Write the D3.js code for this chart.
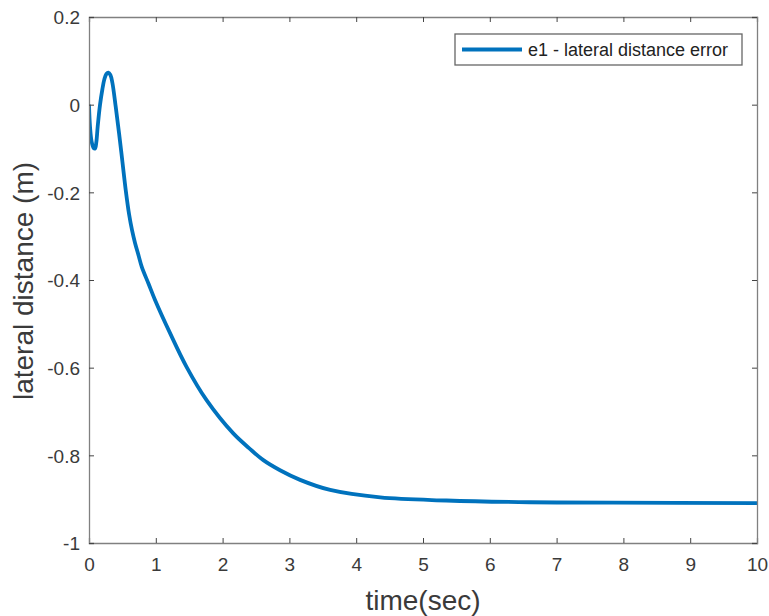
<!DOCTYPE html>
<html>
<head>
<meta charset="utf-8">
<script src="https://cdn.jsdelivr.net/npm/d3@7"></script>
<style>
  html, body { margin: 0; padding: 0; background: #fff; }
  svg { display: block; font-family: "Liberation Sans", Arial, sans-serif; }
</style>
</head>
<body>
<div id="chart"></div>
<script>
/* time samples (sec) and lateral distance error e1 (m) */
const timeSec = [0, 0.015, 0.04, 0.07, 0.09, 0.11, 0.13, 0.165, 0.2, 0.23, 0.26, 0.29, 0.32, 0.35,
  0.40, 0.45, 0.50, 0.55, 0.60, 0.645, 0.69, 0.74, 0.79, 0.89, 0.99, 1.21, 1.46, 1.76, 2.16, 2.4,
  2.61, 2.86, 3.16, 3.61, 4.36, 5.35, 6.6, 7.85, 10];
const e1 = [0, -0.05, -0.085, -0.099, -0.1, -0.085, -0.05, 0.0, 0.035, 0.058, 0.07, 0.073, 0.068, 0.05,
  -0.005, -0.065, -0.13, -0.195, -0.25, -0.287, -0.316, -0.343, -0.37, -0.408, -0.446, -0.52, -0.598,
  -0.674, -0.75, -0.784, -0.811, -0.834, -0.856, -0.879, -0.896, -0.903, -0.907, -0.908, -0.909];

const xTicks = [0, 1, 2, 3, 4, 5, 6, 7, 8, 9, 10];
const yTicks = [-1, -0.8, -0.6, -0.4, -0.2, 0, 0.2];
const legendLabel = 'e1 - lateral distance error';

const W = 769, H = 616;
const box = { left: 89, right: 757, top: 17, bottom: 543 };
const AXIS = '#808080', TXT = '#3a3a3a';

const svg = d3.select('#chart').append('svg')
  .attr('width', W).attr('height', H);

const x = d3.scaleLinear().domain([0, 10]).range([box.left, box.right]);
const y = d3.scaleLinear().domain([-1, 0.2]).range([box.bottom, box.top]);

/* curve */
const pts = timeSec.map((t, i) => [t, e1[i]]);
svg.append('defs').append('clipPath').attr('id', 'clip')
  .append('rect').attr('x', box.left).attr('y', box.top)
  .attr('width', box.right - box.left).attr('height', box.bottom - box.top);

svg.append('path')
  .datum(pts)
  .attr('clip-path', 'url(#clip)')
  .attr('fill', 'none')
  .attr('stroke', '#0072BD')
  .attr('stroke-width', 3.8)
  .attr('stroke-linejoin', 'round')
  .attr('d', d3.line().x(d => x(d[0])).y(d => y(d[1])).curve(d3.curveCatmullRom.alpha(0.5)));

/* axes: inward ticks on all four sides */
const fmt = d => (d === 0 ? '0' : String(+d.toFixed(1)));
const axB = svg.append('g').attr('transform', `translate(0,${box.bottom})`)
  .call(d3.axisBottom(x).tickValues(xTicks).tickSize(-5).tickPadding(15).tickFormat(d3.format('d')));
const axT = svg.append('g').attr('transform', `translate(0,${box.top})`)
  .call(d3.axisTop(x).tickValues(xTicks).tickSize(-5).tickFormat(''));
const axL = svg.append('g').attr('transform', `translate(${box.left},0)`)
  .call(d3.axisLeft(y).tickValues(yTicks).tickSize(-5).tickPadding(9).tickFormat(fmt));
const axR = svg.append('g').attr('transform', `translate(${box.right},0)`)
  .call(d3.axisRight(y).tickValues(yTicks).tickSize(-5).tickFormat(''));

[axB, axT, axL, axR].forEach(g => {
  g.select('.domain').attr('stroke', AXIS).attr('stroke-width', 1.3);
  g.selectAll('.tick line').attr('stroke', '#444');
  g.selectAll('.tick text').attr('fill', TXT).attr('font-size', 19)
    .attr('font-family', '"Liberation Sans", Arial, sans-serif');
});
axL.selectAll('.tick text').attr('dy', '0.36em');

/* axis labels */
svg.append('text')
  .attr('x', (box.left + box.right) / 2).attr('y', 610)
  .attr('text-anchor', 'middle').attr('font-size', 28).attr('fill', TXT)
  .text('time(sec)');
svg.append('text')
  .attr('transform', `translate(33,281) rotate(-90)`)
  .attr('text-anchor', 'middle').attr('font-size', 28).attr('fill', TXT)
  .text('lateral distance (m)');

/* legend */
const lg = svg.append('g').attr('transform', 'translate(455,34)');
lg.append('rect')
  .attr('width', 287).attr('height', 31)
  .attr('fill', '#fff').attr('stroke', '#666').attr('stroke-width', 1.3);
lg.append('line')
  .attr('x1', 7).attr('x2', 67).attr('y1', 15.5).attr('y2', 15.5)
  .attr('stroke', '#0072BD').attr('stroke-width', 3.8);
lg.append('text')
  .attr('x', 73).attr('y', 22)
  .attr('font-size', 18).attr('fill', '#222')
  .text(legendLabel);
</script>
</body>
</html>
